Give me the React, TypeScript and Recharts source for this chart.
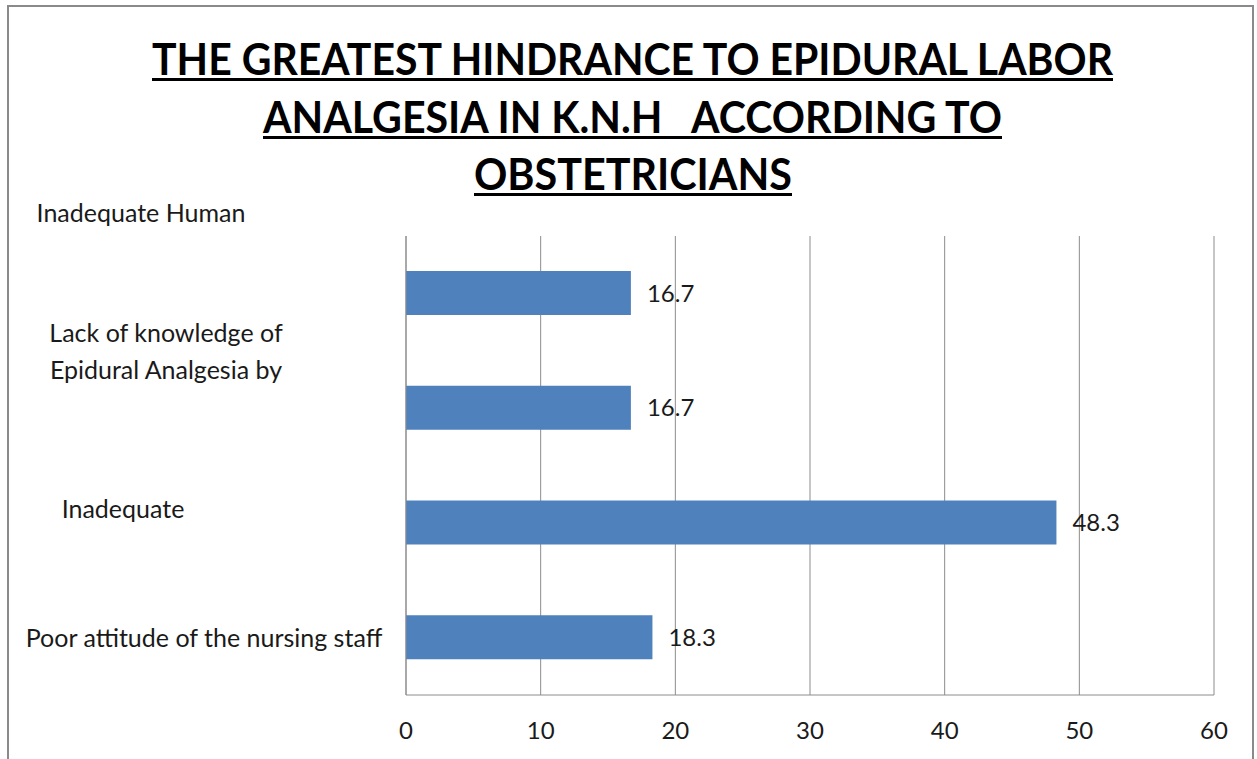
import { Bar, BarChart, CartesianGrid, LabelList, XAxis, YAxis } from "recharts";

const CATEGORY_LINES: string[][] = [
  ["Inadequate Human"],
  ["Lack of knowledge of", "Epidural Analgesia by"],
  ["Inadequate"],
  ["Poor attitude of the nursing staff"],
];
const PERCENTAGES = [16.7, 16.7, 48.3, 18.3];
const X_TICKS = [0, 10, 20, 30, 40, 50, 60];
const TITLE_LINES = [
  "THE GREATEST HINDRANCE TO EPIDURAL LABOR",
  "ANALGESIA IN K.N.H   ACCORDING TO",
  "OBSTETRICIANS",
];

const FONT = "Lato, 'Open Sans', sans-serif";
const BAR_COLOR = "#4F81BD";
const GRID_COLOR = "#8c8c8c";

// Excel clips the wrapped category labels oddly, so each label gets its own spot
const LABEL_LAYOUT = [
  { cx: 141, dys: [-71] },
  { cx: 166, dys: [-66, -29] },
  { cx: 123, dys: [-5] },
  { cx: 204, dys: [9] },
];

// title line placement: [left, right, baseline]
const TITLE_LAYOUT = [
  [152, 1113, 75],
  [263, 1002, 133],
  [474, 792, 190],
];

const data = CATEGORY_LINES.map((lines, i) => ({
  name: lines.join(" "),
  value: PERCENTAGES[i],
}));

function CategoryTick(props: any) {
  const { y, index } = props;
  const layout = LABEL_LAYOUT[index];
  const lines = CATEGORY_LINES[index];
  if (!layout || !lines) return null;
  return (
    <g>
      {lines.map((line, i) => (
        <text
          key={i}
          x={layout.cx}
          y={y + layout.dys[i]}
          textAnchor="middle"
          fontFamily={FONT}
          fontSize={25}
          fill="#1a1a1a"
        >
          {line}
        </text>
      ))}
    </g>
  );
}

function ValueTick(props: any) {
  const { x, payload } = props;
  return (
    <text x={x} y={739} textAnchor="middle" fontFamily={FONT} fontSize={24} fill="#1a1a1a">
      {payload.value}
    </text>
  );
}

export default function App() {
  return (
    <div style={{ position: "absolute", left: 0, top: 0, width: 1257, height: 759, background: "#fff", overflow: "hidden" }}>
      <div
        style={{
          position: "absolute",
          left: 7,
          top: 5,
          width: 1247,
          height: 800,
          border: "2px solid #8a8a8a",
          boxSizing: "border-box",
        }}
      />
      <svg width={1257} height={200} style={{ position: "absolute", left: 0, top: 0 }}>
        {TITLE_LINES.map((line, i) => {
          const [left, right, base] = TITLE_LAYOUT[i];
          return (
            <g key={i}>
              <text
                x={left}
                y={base}
                textLength={right - left}
                lengthAdjust="spacingAndGlyphs"
                fontFamily={FONT}
                fontWeight="bold"
                fontSize={44}
                fill="#000"
                style={{ whiteSpace: "pre" }}
              >
                {line}
              </text>
              <rect x={left} y={base + 3} width={right - left} height={3} fill="#000" />
            </g>
          );
        })}
      </svg>
      <div style={{ position: "absolute", left: 0, top: 0 }}>
        <BarChart
          width={1257}
          height={759}
          data={data}
          layout="vertical"
          margin={{ top: 236, right: 43, bottom: 0, left: 0 }}
        >
          <CartesianGrid horizontal={false} stroke={GRID_COLOR} strokeWidth={1} />
          <XAxis
            type="number"
            domain={[0, 60]}
            ticks={X_TICKS}
            height={64}
            tickLine={false}
            axisLine={{ stroke: GRID_COLOR }}
            tick={<ValueTick />}
          />
          <YAxis
            type="category"
            dataKey="name"
            width={406}
            tickLine={false}
            axisLine={{ stroke: GRID_COLOR }}
            tick={<CategoryTick />}
            interval={0}
          />
          <Bar dataKey="value" fill={BAR_COLOR} barSize={44} isAnimationActive={false}>
            <LabelList
              dataKey="value"
              position="right"
              offset={16}
              fill="#1a1a1a"
              fontFamily={FONT}
              fontSize={24}
            />
          </Bar>
        </BarChart>
      </div>
    </div>
  );
}
